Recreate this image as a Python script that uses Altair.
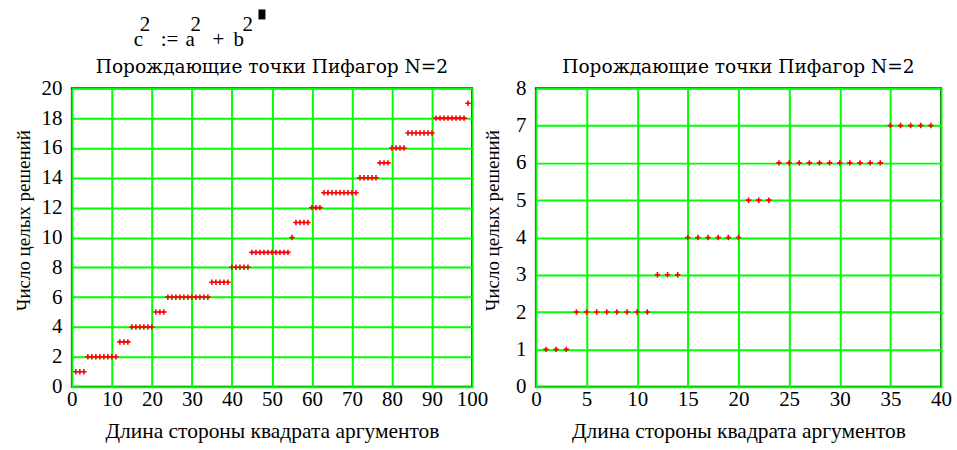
import altair as alt
import pandas as pd

FONT = "Liberation Serif"
HEAD_FONT = "DejaVu Serif"

# Side length of the square of arguments
side_len = list(range(1, 100))

# Number of integer solutions found up to each side length
solutions = [
    1, 1, 1,
    2, 2, 2, 2, 2, 2, 2, 2,
    3, 3, 3,
    4, 4, 4, 4, 4, 4,
    5, 5, 5,
    6, 6, 6, 6, 6, 6, 6, 6, 6, 6, 6,
    7, 7, 7, 7, 7,
    8, 8, 8, 8, 8,
    9, 9, 9, 9, 9, 9, 9, 9, 9, 9,
    10,
    11, 11, 11, 11,
    12, 12, 12,
    13, 13, 13, 13, 13, 13, 13, 13, 13,
    14, 14, 14, 14, 14,
    15, 15, 15,
    16, 16, 16, 16,
    17, 17, 17, 17, 17, 17, 17,
    18, 18, 18, 18, 18, 18, 18, 18,
    19,
]

# Zoomed-in range for the second panel
zoom_len = 39

x_ticks_full = [0, 10, 20, 30, 40, 50, 60, 70, 80, 90, 100]
y_ticks_full = [0, 2, 4, 6, 8, 10, 12, 14, 16, 18, 20]
x_ticks_zoom = [0, 5, 10, 15, 20, 25, 30, 35, 40]
y_ticks_zoom = [0, 1, 2, 3, 4, 5, 6, 7, 8]

panel_title = "Порождающие точки Пифагор N=2"
x_title = "Длина стороны квадрата аргументов"
y_title = "Число целых решений"

full = pd.DataFrame({"n": side_len, "k": solutions})
zoom = full[full["n"] <= zoom_len]

PLUS = "M-1,0H1M0,-1V1"
RED = "#ff0000"
GREEN = "#00ff00"

W_FULL, W_ZOOM, H = 401, 406, 299


def axis(values, title, label_pad, title_pad, title_size, **extra):
    return alt.Axis(
        values=values,
        title=title,
        grid=True,
        gridColor=GREEN,
        gridWidth=2,
        gridOpacity=1,
        domain=False,
        ticks=False,
        labelFont=FONT,
        labelFontSize=21,
        labelColor="#000",
        labelPadding=label_pad,
        labelOverlap=False,
        labelFlush=False,
        titleFont=FONT,
        titleFontSize=title_size,
        titleFontWeight="normal",
        titleColor="#000",
        titlePadding=title_pad,
        **extra,
    )


def panel(df, xmax, ymax, xt, yt, w, y_title_pad):
    return alt.Chart(df).mark_point(
        shape=PLUS, filled=False, color=RED, strokeWidth=1.6, size=30, opacity=1
    ).encode(
        x=alt.X("n:Q", scale=alt.Scale(domain=[0, xmax], nice=False, zero=True),
                axis=axis(xt, x_title, 2, 11, 21.5)),
        y=alt.Y("k:Q", scale=alt.Scale(domain=[0, ymax], nice=False, zero=True),
                axis=axis(yt, y_title, 10, y_title_pad, 19, titleY=132)),
    ).properties(width=w, height=H)


one = pd.DataFrame({"z": [0]})


def piece(text, px, py, font=FONT, size=21, align="left"):
    return alt.Chart(one).mark_text(
        text=text, font=font, fontSize=size, align=align, baseline="alphabetic", color="#000"
    ).encode(x=alt.value(px), y=alt.value(py))


def heading(w):
    return piece(panel_title, w / 2, -15, font=HEAD_FONT, size=18.6, align="center")


# The defining formula c^2 := a^2 + b^2 written above the first panel
formula = [
    piece("c", 62, -42),
    piece("2", 68, -57),
    piece(":=", 89, -42),
    piece("a", 114, -42),
    piece("2", 119, -57),
    piece("+", 141, -42),
    piece("b", 162, -42),
    piece("2", 171, -57),
]
cursor = alt.Chart(one).mark_rect(color="#000").encode(
    x=alt.value(187), x2=alt.value(194), y=alt.value(-79), y2=alt.value(-69)
)

left = alt.layer(
    panel(full, 100, 20, x_ticks_full, y_ticks_full, W_FULL, 7),
    heading(W_FULL),
    *formula,
    cursor,
)

right = alt.layer(
    panel(zoom, 40, 8, x_ticks_zoom, y_ticks_zoom, W_ZOOM, 13),
    heading(W_ZOOM),
)

chart = alt.hconcat(left, right, spacing=64, bounds="flush").properties(
    padding={"left": 14, "top": 8, "right": 4, "bottom": 2},
    background="#ffffff",
).configure_view(stroke="#222222", strokeWidth=2)

chart.save("out.html", embed_options={"renderer": "svg", "actions": False})
